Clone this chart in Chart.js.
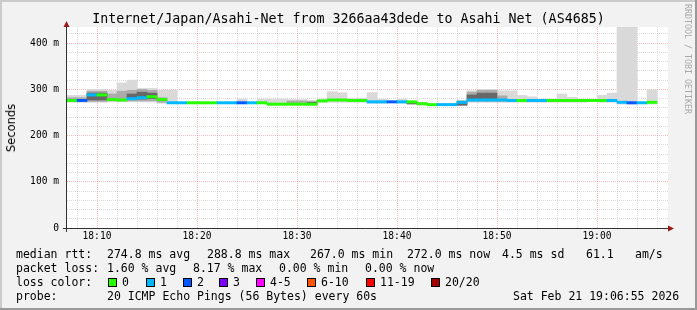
<!DOCTYPE html>
<html lang="en">
<head>
<meta charset="UTF-8">
<title>Internet/Japan/Asahi-Net</title>
<style>
    html, body { margin: 0; padding: 0; background: #f2f2f2; }
    #box { position: relative; width: 697px; height: 310px; overflow: hidden; font-family: "DejaVu Sans Mono", monospace; color: #000; }
    #box canvas { position: absolute; left: 0; top: 0; }
    .t { position: absolute; white-space: pre; font-size: 11.5px; line-height: 14px; }
    .sq { position: absolute; top: 278px; width: 9px; height: 9px; box-sizing: border-box; border: 1px solid #000; }
    #title { position: absolute; left: 0; top: 11px; width: 697px; text-align: center; font-size: 13.3px; line-height: 15px; white-space: pre; }
    #ylab { position: absolute; left: 11px; top: 128px; transform: translate(-50%, -50%) rotate(-90deg); font-family: "DejaVu Sans", sans-serif; font-size: 11.5px; white-space: pre; }
    #mark { position: absolute; left: 683px; top: 4px; writing-mode: vertical-rl; font-size: 8.3px; line-height: 9px; color: #a8a8a8; white-space: pre; }
</style>
</head>
<body>
<div id="box">
    <canvas id="chart" width="697" height="310"></canvas>
    <div id="title">Internet/Japan/Asahi-Net from 3266aa43dede to Asahi Net (AS4685)</div>
    <div id="ylab">Seconds</div>
    <div id="mark">RRDTOOL / TOBI OETIKER</div>

    <span class="t" style="left:16px;top:247px">median rtt:</span>
    <span class="t" style="left:107px;top:247px">274.8 ms avg</span>
    <span class="t" style="left:207px;top:247px">288.8 ms max</span>
    <span class="t" style="left:310px;top:247px">267.0 ms min</span>
    <span class="t" style="left:407px;top:247px">272.0 ms now</span>
    <span class="t" style="left:502px;top:247px">4.5 ms sd</span>
    <span class="t" style="left:586px;top:247px">61.1</span>
    <span class="t" style="left:635px;top:247px">am/s</span>

    <span class="t" style="left:16px;top:261px">packet loss:</span>
    <span class="t" style="left:107px;top:261px">1.60 % avg</span>
    <span class="t" style="left:193px;top:261px">8.17 % max</span>
    <span class="t" style="left:279px;top:261px">0.00 % min</span>
    <span class="t" style="left:365px;top:261px">0.00 % now</span>

    <span class="t" style="left:16px;top:275px">loss color:</span>
    <div id="lossLegend"></div>

    <span class="t" style="left:16px;top:289px">probe:</span>
    <span class="t" style="left:107px;top:289px">20 ICMP Echo Pings (56 Bytes) every 60s</span>
    <span class="t" style="left:513px;top:289px">Sat Feb 21 19:06:55 2026</span>
</div>
<script src="https://cdn.jsdelivr.net/npm/chart.js@4/dist/chart.umd.min.js"></script>
<script>
    'use strict';

    // one step per minute, 18:07 .. 19:05
    var times = ['18:07', '18:08', '18:09', '18:10', '18:11', '18:12', '18:13', '18:14', '18:15', '18:16',
        '18:17', '18:18', '18:19', '18:20', '18:21', '18:22', '18:23', '18:24', '18:25', '18:26',
        '18:27', '18:28', '18:29', '18:30', '18:31', '18:32', '18:33', '18:34', '18:35', '18:36',
        '18:37', '18:38', '18:39', '18:40', '18:41', '18:42', '18:43', '18:44', '18:45', '18:46',
        '18:47', '18:48', '18:49', '18:50', '18:51', '18:52', '18:53', '18:54', '18:55', '18:56',
        '18:57', '18:58', '18:59', '19:00', '19:01', '19:02', '19:03', '19:04', '19:05'];

    // median rtt, ms
    var median = [276, 276, 288, 288, 278, 277, 280, 282, 284, 278,
        271, 271, 271, 271, 271, 271, 271, 271, 271, 271,
        268, 268, 268, 268, 268, 275, 277, 277, 276, 276,
        273, 273, 273, 273, 273, 269, 267, 267, 267, 272,
        277, 277, 277, 277, 276, 276, 276, 276, 276, 276,
        276, 276, 276, 276, 276, 272, 271, 271, 272];

    // lost pings out of 20
    var loss = [0, 2, 1, 0, 0, 0, 1, 1, 0, 0,
        1, 1, 0, 0, 0, 1, 1, 2, 1, 0,
        0, 0, 0, 0, 0, 0, 0, 0, 0, 0,
        1, 1, 2, 1, 0, 0, 0, 1, 1, 1,
        1, 1, 1, 1, 1, 0, 1, 1, 0, 0,
        0, 0, 0, 0, 1, 1, 2, 1, 0];

    // smoke: full ping range
    var smokeMin = [272, 272, 272, 272, 273, 273, 273, 273, 273, 270,
        270, null, null, null, null, null, null, 270, null, 270,
        266, 266, 266, 266, 266, 272, 272, 272, 272, 272,
        270, 270, null, 270, 268, 266, null, 265, 265, 265,
        272, 272, 272, 272, 272, 272, 272, 272, 272, 272,
        272, 272, null, 272, 272, 268, 268, null, 268];
    var smokeMax = [287, 287, 300, 300, 298, 314, 320, 302, 302, 298,
        298, null, null, null, null, null, null, 279, null, 279,
        279, 279, 278, 278, 276, 279, 295, 293, 281, 281,
        293, 279, null, 279, 273, 272, null, 270, 270, 276,
        297, 300, 300, 297, 297, 287, 284, 279, 279, 290,
        283, 279, null, 287, 292, 460, 460, null, 299];

    // smoke: middle of the pings
    var smokeQ1 = [274, 274, 274, 274, 275, 275, 275, 275, 275, 272,
        null, null, null, null, null, null, null, null, null, null,
        null, null, 267, 267, 266, null, null, null, null, null,
        null, null, null, null, 268, null, null, null, null, 265,
        274, 274, 274, 274, null, null, null, null, null, null,
        null, null, null, null, null, null, null, null, null];
    var smokeQ3 = [282, 282, 296, 296, 290, 296, 298, 300, 298, 282,
        null, null, null, null, null, null, null, null, null, null,
        null, null, 275, 275, 274, null, null, null, null, null,
        null, null, null, null, 273, null, null, null, null, 275,
        294, 298, 298, 286, null, null, null, null, null, null,
        null, null, null, null, null, null, null, null, null];

    // smoke: dense core
    var coreLo = [null, null, 277, 277, null, null, 279, 279, 280, null,
        null, null, null, null, null, null, null, null, null, null,
        null, null, null, null, 267, null, null, null, null, null,
        null, null, null, null, 269, null, null, null, null, 266,
        276, 276, 276, null, null, null, null, null, null, null,
        null, null, null, null, null, null, null, null, null];
    var coreHi = [null, null, 292, 292, null, null, 290, 294, 292, null,
        null, null, null, null, null, null, null, null, null, null,
        null, null, null, null, 272, null, null, null, null, null,
        null, null, null, null, 272, null, null, null, null, 272,
        288, 292, 292, null, null, null, null, null, null, null,
        null, null, null, null, null, null, null, null, null];

    var lossLabels = ['0', '1', '2', '3', '4-5', '6-10', '11-19', '20/20'];
    var lossColors = ['#26ff00', '#00b8ff', '#0059ff', '#7e00ff', '#ff00ff', '#ff5500', '#ff0000', '#a10000'];
    var lossBoxX = [108, 146, 183, 219, 256, 307, 366, 431];

    // legend squares
    var ll = document.getElementById('lossLegend');
    lossLabels.forEach(function (lab, i) {
        var sq = document.createElement('div');
        sq.className = 'sq';
        sq.style.left = lossBoxX[i] + 'px';
        sq.style.background = lossColors[i];
        ll.appendChild(sq);
        var t = document.createElement('span');
        t.className = 't';
        t.style.left = (lossBoxX[i] + 14) + 'px';
        t.style.top = '275px';
        t.textContent = lab;
        ll.appendChild(t);
    });

    function toMin(t) {
        var p = t.split(':');
        return (Number(p[0]) - 18) * 60 + Number(p[1]);
    }

    function lossColor(n) {
        if (n <= 3) return lossColors[n];
        if (n <= 5) return lossColors[4];
        if (n <= 10) return lossColors[5];
        if (n <= 19) return lossColors[6];
        return lossColors[7];
    }

    function band(lo, hi, color) {
        var data = [];
        times.forEach(function (t, i) {
            if (lo[i] === null) return;
            data.push({x: toMin(t) + 0.5, y: [lo[i], hi[i]]});
        });
        return {
            data: data, backgroundColor: color, borderWidth: 0,
            grouped: false, barPercentage: 1, categoryPercentage: 1
        };
    }

    var medianSet = {
        data: times.map(function (t, i) {
            return {x: toMin(t) + 0.5, y: [median[i] - 2.5, median[i] + 2.5]};
        }),
        backgroundColor: loss.map(lossColor),
        borderWidth: 0, grouped: false, barPercentage: 1, categoryPercentage: 1
    };

    var gridMajor = 'rgba(255, 120, 120, 0.5)';
    var gridMinor = 'rgba(160, 160, 160, 0.38)';
    var tickFont = {family: 'DejaVu Sans Mono', size: 9.6};

    // background, plot area and the 3d frame
    var framePlugin = {
        id: 'frame',
        beforeDraw: function (chart) {
            var c = chart.ctx, a = chart.chartArea, w = chart.width, h = chart.height;
            c.save();
            c.fillStyle = '#f2f2f2';
            c.fillRect(0, 0, w, h);
            c.fillStyle = '#ffffff';
            c.fillRect(a.left, a.top, a.right - a.left, a.bottom - a.top);
            c.fillStyle = '#cbcbcb';
            c.fillRect(0, 0, w, 2);
            c.fillRect(0, 0, 2, h);
            c.fillStyle = '#999999';
            c.fillRect(0, h - 2, w, 2);
            c.fillRect(w - 2, 0, 2, h);
            c.restore();
        }
    };

    // axis lines with arrows
    var axesPlugin = {
        id: 'axes',
        afterDraw: function (chart) {
            var c = chart.ctx, a = chart.chartArea;
            var x0 = a.left - 0.5, y0 = a.bottom + 0.5;
            c.save();
            c.strokeStyle = '#333333';
            c.lineWidth = 1;
            c.beginPath();
            c.moveTo(a.left - 4, y0);
            c.lineTo(a.right, y0);
            c.moveTo(x0, a.bottom + 4);
            c.lineTo(x0, a.top);
            c.stroke();
            c.fillStyle = '#9a1a1a';
            c.beginPath();
            c.moveTo(a.right, y0 - 3);
            c.lineTo(a.right + 6, y0);
            c.lineTo(a.right, y0 + 3);
            c.closePath();
            c.fill();
            c.beginPath();
            c.moveTo(x0 - 3, a.top);
            c.lineTo(x0, a.top - 6);
            c.lineTo(x0 + 3, a.top);
            c.closePath();
            c.fill();
            c.restore();
        }
    };

    var chart = new Chart(document.getElementById('chart'), {
        type: 'bar',
        data: {
            datasets: [
                medianSet,
                band(coreLo, coreHi, '#686868'),
                band(smokeQ1, smokeQ3, '#ababab'),
                band(smokeMin, smokeMax, '#d9d9d9')
            ]
        },
        options: {
            responsive: false,
            animation: false,
            layout: {padding: {left: 0, right: 29, top: 27, bottom: 0}},
            plugins: {legend: {display: false}, title: {display: false}, tooltip: {enabled: false}},
            scales: {
                x: {
                    type: 'linear', min: 7, max: 67.1, offset: false, z: 1,
                    afterBuildTicks: function (s) {
                        var t = [];
                        for (var v = 8; v <= 66; v += 2) t.push({value: v});
                        s.ticks = t;
                    },
                    afterFit: function (s) { s.height = 82; },
                    grid: {
                        offset: false, drawTicks: false, lineWidth: 1,
                        color: function (c) { return c.tick && c.tick.value % 10 === 0 ? gridMajor : gridMinor; }
                    },
                    border: {display: false, dash: [1, 1]},
                    ticks: {
                        autoSkip: false, maxRotation: 0, padding: 3, color: '#000', font: tickFont,
                        callback: function (v) {
                            if (v % 10 !== 0) return '';
                            var m = v % 60;
                            return (18 + Math.floor(v / 60)) + ':' + (m < 10 ? '0' : '') + m;
                        }
                    }
                },
                y: {
                    type: 'linear', min: 0, max: 435, z: 1,
                    afterBuildTicks: function (s) {
                        var t = [];
                        for (var v = 0; v <= 420; v += 20) t.push({value: v});
                        s.ticks = t;
                    },
                    afterFit: function (s) { s.width = 67; },
                    grid: {
                        drawTicks: false, lineWidth: 1,
                        color: function (c) { return c.tick && c.tick.value % 100 === 0 ? gridMajor : gridMinor; }
                    },
                    border: {display: false, dash: [1, 1]},
                    ticks: {
                        autoSkip: false, padding: 8, color: '#000', font: tickFont,
                        callback: function (v) {
                            if (v % 100 !== 0) return '';
                            return v === 0 ? '0' : v + ' m';
                        }
                    }
                }
            }
        },
        plugins: [framePlugin, axesPlugin]
    });
</script>
</body>
</html>
